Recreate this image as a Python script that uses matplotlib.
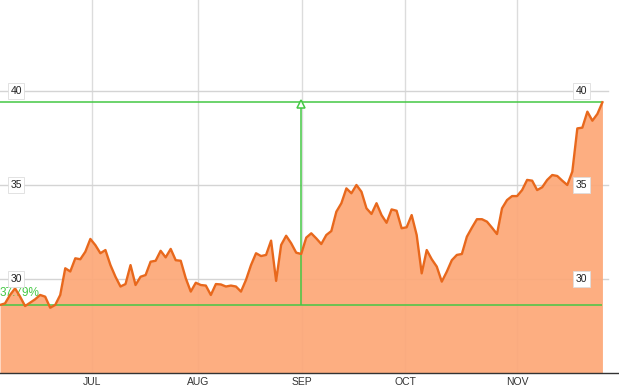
import matplotlib.pyplot as plt

plt.rcParams['font.family'] = ['Liberation Sans', 'DejaVu Sans']

# closing prices, one per trading day (early June .. late November)
prices = [
    28.62, 28.70, 29.15, 29.50, 29.06, 28.56, 28.74, 28.92, 29.15, 29.06,
    28.47, 28.62, 29.15, 30.57, 30.40, 31.10, 31.05, 31.45, 32.13, 31.80,
    31.37, 31.54, 30.74, 30.12, 29.60, 29.73, 30.74, 29.68, 30.12, 30.21,
    30.92, 30.97, 31.50, 31.15, 31.60, 31.00, 30.97, 30.04, 29.33, 29.80,
    29.68, 29.65, 29.15, 29.73, 29.71, 29.60, 29.65, 29.60, 29.33, 29.95,
    30.74, 31.37, 31.22, 31.28, 32.04, 29.90, 31.81, 32.30, 31.90, 31.40,
    31.33, 32.20, 32.43, 32.16, 31.86, 32.34, 32.55, 33.58, 34.03, 34.82,
    34.56, 35.00, 34.64, 33.76, 33.46, 34.03, 33.40, 32.99, 33.70, 33.63,
    32.70, 32.75, 33.40, 32.34, 30.30, 31.54, 31.05, 30.66, 29.86, 30.39,
    31.00, 31.28, 31.33, 32.25, 32.73, 33.18, 33.18, 33.05, 32.73, 32.39,
    33.76, 34.20, 34.41, 34.41, 34.73, 35.27, 35.23, 34.73, 34.88, 35.27,
    35.53, 35.48, 35.23, 35.00, 35.71, 38.01, 38.05, 38.90, 38.42, 38.78,
    39.40,
]
month_labels = ["JUL", "AUG", "SEP", "OCT", "NOV"]
month_pos = [18.3, 39.4, 60.2, 80.7, 103.0]   # trading-day index of month start
y_levels = [30, 35, 40]

low_price = 28.60
high_price = 39.41
low_idx = 60          # day the range marker is drawn
range_label = "37.79%"

days = list(range(len(prices)))
green = "#44c844"

fig = plt.figure(figsize=(6.19, 3.89), dpi=100)
ax = fig.add_axes([0, 16 / 389, 1, 373 / 389])
ax.set_xlim(0, 123.3)
ax.set_ylim(25.0, 44.84)

# grid
for m in month_pos:
    ax.axvline(m, color="#dcdcdc", lw=1, zorder=0)
for lv in y_levels:
    ax.axhline(lv, xmax=0.982, color="#d4d4d4", lw=1, zorder=0)

ax.fill_between(days, prices, 25.0, color="#fda878", alpha=0.93, lw=0, zorder=1)

# range lines
last = days[-1]
ax.hlines([low_price, high_price], 0, last, color=green, lw=1.1, zorder=3)
ax.vlines(low_idx, low_price, high_price, color=green, lw=1.1, zorder=3)
ax.plot([low_idx], [high_price - 0.12], marker="^", ms=6, mfc="white",
        mec=green, mew=1.1, zorder=4)
ax.text(0, 29.27, range_label, color=green, fontsize=8.5, ha="left",
        va="center", zorder=2)

ax.plot(days, prices, color="#e8681c", lw=1.7, zorder=5)

# price labels on both sides
box = dict(boxstyle="square,pad=0.25", fc="white", ec="#dddddd", lw=0.6)
for lv in y_levels:
    for xf in (0.026, 0.939):
        ax.text(xf, lv, str(lv), transform=ax.get_yaxis_transform(),
                fontsize=7.5, ha="center", va="center", color="#222222",
                bbox=box, zorder=6)

ax.set_xticks(month_pos)
ax.set_xticklabels(month_labels)
ax.set_yticks([])
ax.tick_params(axis="x", length=0, pad=3, labelsize=7.5, colors="#333333")
for s in ("top", "left", "right"):
    ax.spines[s].set_visible(False)
ax.spines["bottom"].set_color("#333333")
ax.spines["bottom"].set_linewidth(1)

fig.savefig("out.png", dpi=100)
